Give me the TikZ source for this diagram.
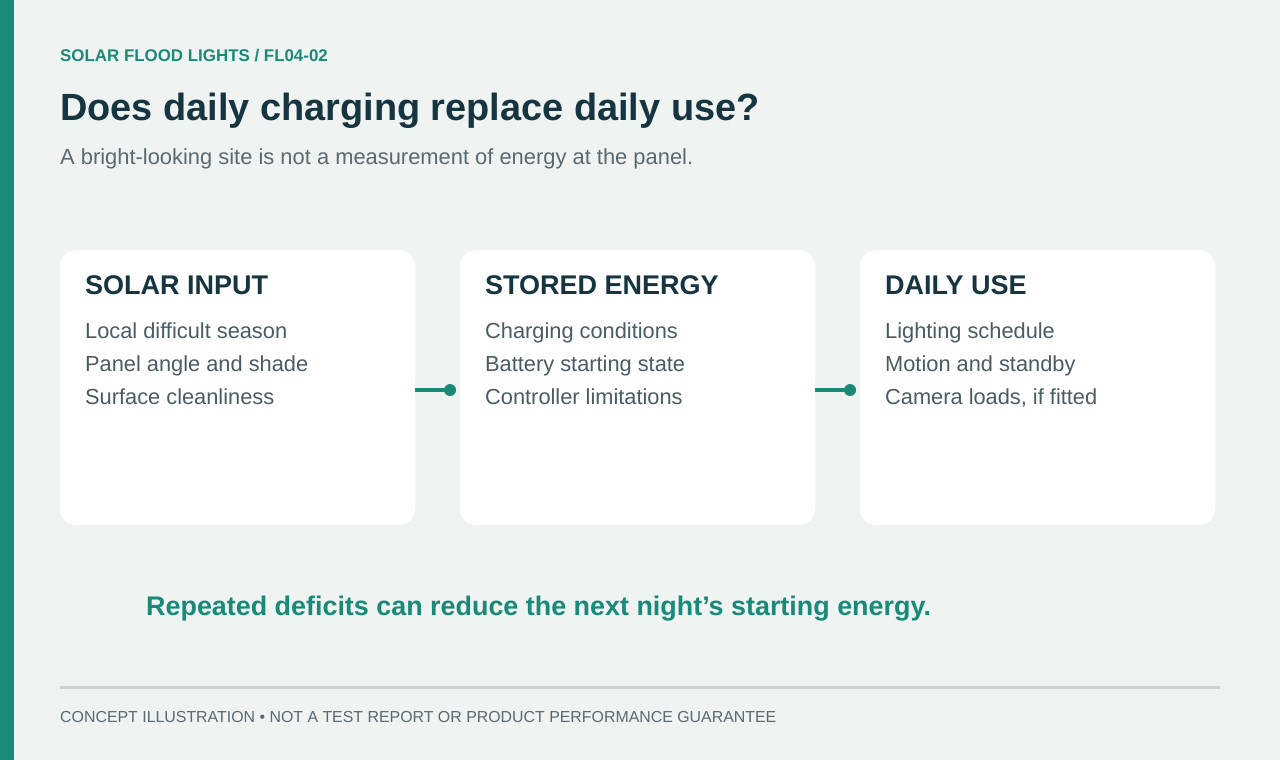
\documentclass[tikz,border=0pt]{standalone}
\usepackage{fontspec}
\setmainfont{Liberation Sans}
\definecolor{bg}{HTML}{EFF3F2}
\definecolor{teal}{HTML}{1A8A78}
\definecolor{ink}{HTML}{173540}
\definecolor{sub}{HTML}{5A6A70}
\definecolor{body}{HTML}{4A5C62}
\definecolor{rule}{HTML}{C9D3D0}
\begin{document}
\begin{tikzpicture}[x=1pt,y=-1pt,
  card/.style={fill=white,rounded corners=16pt,draw=none},
  head/.style={anchor=base west,font=\fontsize{27}{30}\selectfont\bfseries,text=ink,inner sep=0pt},
  item/.style={anchor=base west,font=\fontsize{21.8}{24}\selectfont,text=body,inner sep=0pt},
  link/.style={draw=teal,line width=4pt},
  dotc/.style={circle,fill=teal,minimum size=12pt,inner sep=0pt}]
\fill[bg] (0,0) rectangle (1280,760);
\useasboundingbox (0,0) rectangle (1280,760);
\fill[teal] (0,0) rectangle (14,760);
\node[anchor=base west,inner sep=0pt,font=\fontsize{16.9}{18}\selectfont\bfseries,text=teal] (kicker) at (60,62) {SOLAR FLOOD LIGHTS / FL04-02};
\node[anchor=base west,inner sep=0pt,font=\fontsize{37.9}{42}\selectfont\bfseries,text=ink] (title) at (60,120) {Does daily charging replace daily use?};
\node[anchor=base west,inner sep=0pt,font=\fontsize{21.9}{24}\selectfont,text=sub] (subt) at (60,164) {A bright-looking site is not a measurement of energy at the panel.};
% cards
\path[card] (60,250) rectangle (415,525);
\path[card] (460,250) rectangle (815,525);
\path[card] (860,250) rectangle (1215,525);
\coordinate (c1) at (415,390);
\coordinate (c2) at (815,390);
\node[dotc] (d1) at (450,390) {};
\node[dotc] (d2) at (850,390) {};
\draw[link] (c1) -- (d1.center);
\draw[link] (c2) -- (d2.center);
\node[head] (h1) at (85,294) {SOLAR INPUT};
\node[item] at (85,338) {Local difficult season};
\node[item] at (85,371) {Panel angle and shade};
\node[item] at (85,404) {Surface cleanliness};
\node[head] (h2) at (485,294) {STORED ENERGY};
\node[item] at (485,338) {Charging conditions};
\node[item] at (485,371) {Battery starting state};
\node[item] at (485,404) {Controller limitations};
\node[head] (h3) at (885,294) {DAILY USE};
\node[item] at (885,338) {Lighting schedule};
\node[item] at (885,371) {Motion and standby};
\node[item] at (885,404) {Camera loads, if fitted};
\node[anchor=base west,inner sep=0pt,font=\fontsize{26.9}{30}\selectfont\bfseries,text=teal] (note) at (146,615) {Repeated deficits can reduce the next night’s starting energy.};
\draw[rule,line width=3pt] (60,687) -- (1220,687);
\node[anchor=base west,inner sep=0pt,font=\fontsize{15.9}{18}\selectfont,text=sub] (foot) at (60,722) {CONCEPT ILLUSTRATION • NOT A TEST REPORT OR PRODUCT PERFORMANCE GUARANTEE};
\end{tikzpicture}
\end{document}
